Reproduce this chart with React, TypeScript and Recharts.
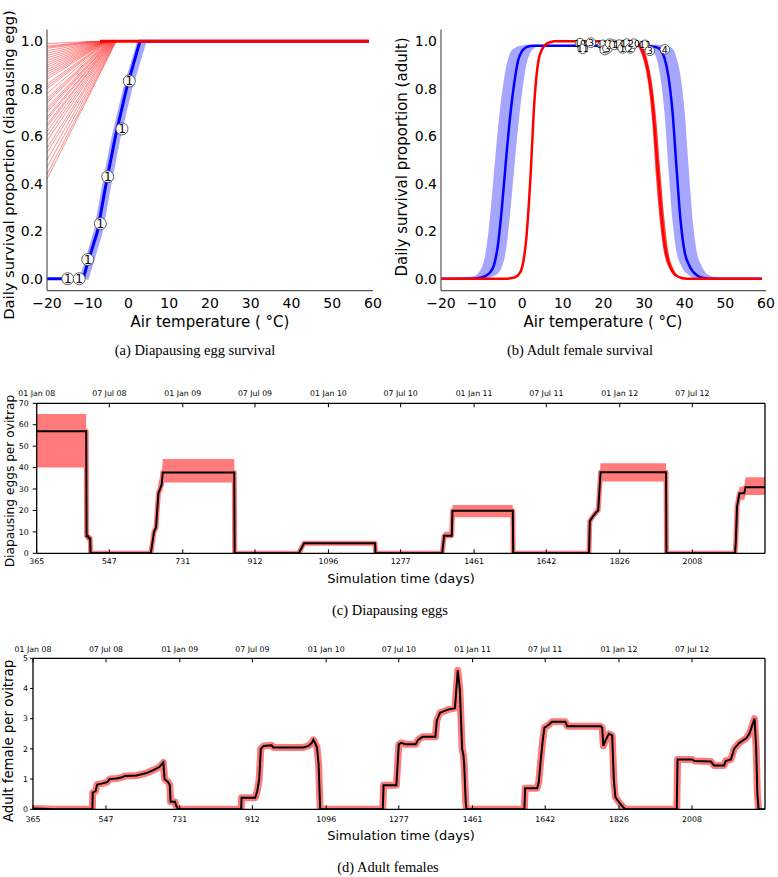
import React from 'react';
import { ComposedChart, Line, Area, Scatter, XAxis, YAxis, ReferenceLine } from 'recharts';

const SANS = "'DejaVu Sans', sans-serif";
const SERIF = "'Liberation Serif', serif";

// ---------- Panel (a): diapausing egg survival ----------
const tempTicks = [-20, -10, 0, 10, 20, 30, 40, 50, 60];
const survTicks = [0, 0.2, 0.4, 0.6, 0.8, 1.0];

const eggBlueT = [-20, -11.1, -10.3, -7.6, -5.5, -3.2, -0.5, 2.8, 59];
const eggBlueP = [0, 0, 0.05, 0.2, 0.4, 0.6, 0.8, 1.0, 1.0];
const eggBandT = [-10.9, -10.0, -7.4, -5.3, -3.0, -0.2, 3.3];
const eggBandP = [0, 0.05, 0.2, 0.4, 0.6, 0.8, 1.0];
const eggRedStart = [0.42, 0.44, 0.47, 0.5, 0.53, 0.55, 0.58, 0.6, 0.62, 0.64, 0.65, 0.67, 0.68, 0.7, 0.71, 0.72, 0.74, 0.75, 0.76, 0.78, 0.8, 0.81, 0.82, 0.84, 0.85, 0.86, 0.87, 0.88, 0.89, 0.9, 0.91, 0.92, 0.93, 0.94, 0.95, 0.96, 0.97, 0.975, 0.98, 0.99];
const eggRedKnee = [-3.0, -3.1, -3.2, -3.3, -3.4, -3.5, -3.6, -3.7, -3.8, -3.9, -4.0, -4.1, -4.2, -4.3, -4.4, -4.5, -4.6, -4.7, -4.8, -4.9, -5.0, -5.1, -5.2, -5.3, -5.4, -5.5, -5.6, -5.7, -5.8, -5.9, -6.0, -6.2, -6.4, -6.6, -6.8, -7.0, -7.4, -7.8, -8.2, -9.0];
const eggRedFlatT = [-7, 59];
const eggRedFlatP = [1, 1];
const eggObsT = [-14.9, -12.1, -10.0, -6.9, -5.1, -1.6, 0.2];
const eggObsP = [0, 0, 0.081, 0.232, 0.43, 0.631, 0.833];
const eggObsN = ['1', '1', '1', '1', '1', '1', '1'];

// ---------- Panel (b): adult female survival ----------
const tempB = [-20, -12, -10, -9, -8, -7, -6, -5, -4, -3, -2, -1, 0, 1, 2, 3, 4, 5, 6, 7, 8, 10, 20, 27, 28, 29, 30, 31, 32, 33, 34, 35, 36, 37, 38, 39, 40, 41, 42, 43, 44, 46, 50, 59];
const blueB = [0, 0, 0.005, 0.012, 0.025, 0.055, 0.14, 0.3, 0.5, 0.68, 0.82, 0.92, 0.96, 0.975, 0.98, 0.981, 0.981, 0.981, 0.981, 0.981, 0.981, 0.981, 0.981, 0.981, 0.981, 0.981, 0.98, 0.98, 0.978, 0.975, 0.965, 0.93, 0.85, 0.7, 0.46, 0.24, 0.11, 0.06, 0.03, 0.015, 0.005, 0, 0, 0];
const blueLoB = [0, 0, 0, 0.002, 0.004, 0.011, 0.022, 0.05, 0.12, 0.27, 0.46, 0.64, 0.79, 0.9, 0.952, 0.972, 0.977, 0.977, 0.977, 0.977, 0.977, 0.977, 0.977, 0.977, 0.977, 0.977, 0.976, 0.975, 0.965, 0.93, 0.85, 0.7, 0.46, 0.24, 0.11, 0.06, 0.03, 0.015, 0.005, 0.002, 0, 0, 0, 0];
const blueHiB = [0, 0.01, 0.046, 0.11, 0.25, 0.44, 0.63, 0.78, 0.89, 0.95, 0.97, 0.979, 0.982, 0.985, 0.985, 0.985, 0.985, 0.985, 0.985, 0.985, 0.985, 0.985, 0.985, 0.985, 0.985, 0.985, 0.985, 0.985, 0.985, 0.985, 0.984, 0.982, 0.978, 0.97, 0.93, 0.85, 0.7, 0.46, 0.24, 0.11, 0.06, 0.015, 0, 0];
const redB = [0, 0, 0, 0, 0, 0, 0, 0, 0, 0.002, 0.005, 0.015, 0.05, 0.17, 0.42, 0.75, 0.92, 0.97, 0.99, 0.997, 1, 1, 1, 1, 0.995, 0.98, 0.94, 0.87, 0.75, 0.54, 0.32, 0.15, 0.07, 0.03, 0.012, 0.004, 0.001, 0, 0, 0, 0, 0, 0, 0];
const redLoB = [null, null, null, null, null, null, null, null, null, null, null, null, null, null, null, null, null, null, null, null, null, null, null, 1, 0.99, 0.96, 0.91, 0.82, 0.66, 0.41, 0.22, 0.1, 0.05, 0.02, 0.007, 0.002, 0, null, null, null, null, null, null, null];
const redHiB = [null, null, null, null, null, null, null, null, null, null, null, null, null, null, null, null, null, null, null, null, null, null, null, 1, 1, 0.99, 0.965, 0.91, 0.82, 0.67, 0.45, 0.25, 0.11, 0.05, 0.02, 0.008, 0.002, null, null, null, null, null, null, null];
const adultObsT = [14.2, 14.9, 16.9, 19.8, 20.3, 21.0, 21.6, 22.7, 23.9, 24.7, 25.7, 26.6, 27.5, 30.2, 31.4, 35.1];
const adultObsP = [0.992, 0.968, 0.994, 0.985, 0.963, 0.97, 0.99, 0.985, 0.986, 0.97, 0.99, 0.97, 0.99, 0.985, 0.96, 0.966];
const adultObsN = ['10', '11', '3', '11', '5', '3', '1', '1', '16', '1', '12', '2', '20', '11', '3', '4'];

// ---------- Panels (c) and (d): time series ----------
const dayTicks = [365, 547, 731, 912, 1096, 1277, 1461, 1642, 1826, 2008];
const dateLabels = ['01 Jan 08', '07 Jul 08', '01 Jan 09', '07 Jul 09', '01 Jan 10', '07 Jul 10', '01 Jan 11', '07 Jul 11', '01 Jan 12', '07 Jul 12'];
const eggTicksY = [0, 10, 20, 30, 40, 50, 60, 70];
const adultTicksY = [0, 1, 2, 3, 4, 5];

const diapDay = [365, 489, 490, 494, 495, 499, 500, 651, 659, 664, 670, 674, 678, 681, 860, 861, 1021, 1023, 1035, 1213, 1214, 1381, 1386, 1405, 1407, 1558, 1559, 1749, 1751, 1758, 1766, 1772, 1778, 1942, 1943, 2115, 2117, 2120, 2126, 2138, 2141, 2190];
const diapMean = [57, 57, 8, 8, 7, 7, 0, 0, 10, 12, 28, 30, 32, 37.7, 37.7, 0, 0, 0.5, 4.7, 4.7, 0, 0, 8.2, 8.2, 19.9, 19.9, 0, 0, 15, 17, 19, 20, 37.8, 37.8, 0, 0, 6, 21.8, 28, 28, 30.8, 30.8];
const diapLo = [40, 40, 6, 6, 6, 6, 0, 0, 8, 10, 24, 27, 30, 33, 33, 0, 0, 0.3, 4, 4, 0, 0, 7, 7, 16.8, 16.8, 0, 0, 13, 15.5, 17.5, 18, 33.5, 33.5, 0, 0, 4, 19, 25, 25, 27.2, 27.2];
const diapHi = [65, 65, 10, 10, 8, 8, 0, 0, 13, 15, 33, 35, 36, 44, 44, 0, 0, 0.7, 5.5, 5.5, 0, 0, 10, 10, 22.5, 22.5, 0, 0, 16.5, 18, 21, 22, 42, 42, 0, 0, 8, 24, 31, 31, 35.5, 35.5];

const adultDay = [365, 420, 513, 514, 521, 525, 536, 550, 556, 573, 585, 594, 623, 648, 665, 680, 690, 693, 702, 706, 708, 719, 721, 727, 884, 885, 919, 924, 929, 933, 940, 960, 964, 1039, 1052, 1060, 1064, 1068, 1073, 1077, 1081, 1237, 1239, 1271, 1277, 1283, 1294, 1319, 1325, 1336, 1368, 1372, 1380, 1399, 1417, 1424, 1429, 1432, 1435, 1438, 1440, 1444, 1446, 1590, 1592, 1622, 1626, 1630, 1636, 1640, 1651, 1659, 1692, 1697, 1780, 1784, 1787, 1793, 1801, 1809, 1813, 1817, 1828, 1838, 1842, 1970, 1972, 2009, 2014, 2055, 2063, 2088, 2092, 2105, 2113, 2126, 2143, 2151, 2164, 2168, 2171, 2174, 2190];
const adultMean = [0.03, 0, 0, 0.55, 0.6, 0.82, 0.85, 0.9, 1.0, 1.02, 1.05, 1.1, 1.12, 1.2, 1.3, 1.4, 1.55, 1.0, 0.9, 0.8, 0.25, 0.25, 0.15, 0, 0, 0.38, 0.38, 0.6, 1.0, 2.0, 2.1, 2.12, 2.05, 2.05, 2.1, 2.2, 2.3, 2.2, 2.05, 1.5, 0, 0, 0.8, 0.8, 2.15, 2.2, 2.15, 2.15, 2.3, 2.4, 2.4, 2.95, 3.2, 3.3, 3.35, 4.6, 4.0, 3.0, 2.0, 1.8, 1.5, 0.2, 0, 0, 0.7, 0.7, 0.9, 1.5, 2.3, 2.7, 2.8, 2.9, 2.9, 2.75, 2.75, 2.7, 2.1, 2.3, 2.5, 2.45, 1.0, 0.4, 0.2, 0.05, 0, 0, 1.65, 1.65, 1.6, 1.58, 1.45, 1.45, 1.6, 1.65, 2.0, 2.2, 2.35, 2.5, 3.0, 2.0, 0.5, 0, 0];

// ---------- tables built from the arrays ----------
const pts = (xs: number[], ys: number[]) => xs.map((x, i) => ({ x, y: ys[i] }));
const eggBlue = pts(eggBlueT, eggBlueP);
const eggBand = pts(eggBandT, eggBandP);
const eggRedFlat = pts(eggRedFlatT, eggRedFlatP);
const eggObs = eggObsT.map((x, i) => ({ x, y: eggObsP[i], n: eggObsN[i] }));
const adultObs = adultObsT.map((x, i) => ({ x, y: adultObsP[i], n: adultObsN[i] }));

const rowsB = tempB.map((x, i) => ({
  x,
  blue: blueB[i],
  blueBand: [blueLoB[i], blueHiB[i]],
  red: redB[i],
  redBand: redLoB[i] == null ? null : [redLoB[i], redHiB[i]],
}));

const haloOf = (v: number[]) => v.map((y, i) => (y > 0 || (v[i - 1] ?? 0) > 0 || (v[i + 1] ?? 0) > 0 ? y : null));
const diapHalo = haloOf(diapMean);
const rowsC = diapDay.map((x, i) => ({ x, v: diapMean[i], halo: diapHalo[i], band: [diapLo[i], diapHi[i]] }));
const adultHalo = haloOf(adultMean);
const rowsD = adultDay.map((x, i) => ({ x, v: adultMean[i], halo: adultHalo[i] }));

// ---------- helpers ----------
const fmtT = (v: number) => (v < 0 ? '\u2212' + Math.abs(v) : String(v));
const fmt1 = (v: number) => v.toFixed(1);
const fmtDate = (v: number) => {
  const i = dayTicks.indexOf(v);
  return i >= 0 ? dateLabels[i] : '';
};

const tickAB = { fill: '#000', fontSize: 14, fontFamily: SANS };
const axisAB = { stroke: '#555', strokeWidth: 1.2 };
const tickCD = { fill: '#000', fontSize: 7.8, fontFamily: SANS };
const axisCD = { stroke: '#000', strokeWidth: 1.3 };

const badge = (r: number, fs: number) => (props: any) => {
  const { cx, cy, payload } = props;
  if (cx == null || cy == null) return <g />;
  return (
    <g>
      <circle cx={cx} cy={cy} r={r} fill="#fff" stroke="#333" strokeWidth={0.8} />
      <text x={cx} y={cy} dy="0.36em" textAnchor="middle" fontSize={fs} fontFamily={SANS} fill="#000">
        {payload.n}
      </text>
    </g>
  );
};

const Txt = ({ x, y, size, family, rotate, children }: any) => (
  <div
    style={{
      position: 'absolute',
      left: x,
      top: y,
      transform: `translate(-50%, -50%)${rotate ? ' rotate(-90deg)' : ''}`,
      fontFamily: family,
      fontSize: size,
      lineHeight: 1,
      whiteSpace: 'nowrap',
      color: '#000',
    }}
  >
    {children}
  </div>
);

export default function App() {
  return (
    <div style={{ position: 'absolute', left: 0, top: 0, width: 778, height: 877, background: '#fff', overflow: 'hidden' }}>
      {/* Panel (a) */}
      <div style={{ position: 'absolute', left: 0, top: 0 }}>
        <ComposedChart width={390} height={335} margin={{ top: 29.4, right: 17, bottom: 14.4, left: 0 }}>
          <XAxis type="number" dataKey="x" domain={[-20, 60]} ticks={tempTicks} tickFormatter={fmtT} height={30}
            axisLine={axisAB} tickLine={false} tickSize={0} tickMargin={7} tick={tickAB} allowDataOverflow />
          <YAxis type="number" domain={[-0.05, 1.05]} ticks={survTicks} tickFormatter={fmt1} width={47}
            axisLine={axisAB} tickLine={false} tickSize={0} tickMargin={4} tick={tickAB} allowDataOverflow />
          {eggRedStart.map((s, i) => (
            <Line key={'r' + i} data={[{ x: -20, y: s }, { x: eggRedKnee[i], y: 1 }]} dataKey="y" type="linear"
              stroke="#ff0000" strokeOpacity={0.5} strokeWidth={0.9} dot={false} activeDot={false} isAnimationActive={false} />
          ))}
          <Line data={eggBand} dataKey="y" type="linear" stroke="#0000ff" strokeOpacity={0.35} strokeWidth={9}
            dot={false} activeDot={false} isAnimationActive={false} />
          <Line data={eggBlue} dataKey="y" type="linear" stroke="#0000ff" strokeWidth={3}
            dot={false} activeDot={false} isAnimationActive={false} />
          <Line data={eggRedFlat} dataKey="y" type="linear" stroke="#ff0000" strokeWidth={3}
            dot={false} activeDot={false} isAnimationActive={false} />
          <Scatter data={eggObs} dataKey="y" shape={badge(6, 12)} isAnimationActive={false} />
        </ComposedChart>
      </div>

      {/* Panel (b) */}
      <div style={{ position: 'absolute', left: 394, top: 0 }}>
        <ComposedChart width={384} height={335} data={rowsB} margin={{ top: 29.4, right: 12, bottom: 14.4, left: 0 }}>
          <XAxis type="number" dataKey="x" domain={[-20, 60]} ticks={tempTicks} tickFormatter={fmtT} height={30}
            axisLine={axisAB} tickLine={false} tickSize={0} tickMargin={7} tick={tickAB} allowDataOverflow />
          <YAxis type="number" domain={[-0.05, 1.05]} ticks={survTicks} tickFormatter={fmt1} width={47}
            axisLine={axisAB} tickLine={false} tickSize={0} tickMargin={4} tick={tickAB} allowDataOverflow />
          <Area dataKey="blueBand" type="monotone" stroke="none" fill="#0000ff" fillOpacity={0.35}
            activeDot={false} isAnimationActive={false} />
          <Area dataKey="redBand" type="monotone" stroke="none" fill="#ff0000" fillOpacity={0.75}
            activeDot={false} isAnimationActive={false} />
          <Line dataKey="blue" type="monotone" stroke="#0000ff" strokeWidth={2.5} dot={false} activeDot={false} isAnimationActive={false} />
          <Line dataKey="red" type="monotone" stroke="#ff0000" strokeWidth={2.5} dot={false} activeDot={false} isAnimationActive={false} />
          <Scatter data={adultObs} dataKey="y" shape={badge(4.8, 9.5)} isAnimationActive={false} />
        </ComposedChart>
      </div>

      {/* Panel (c) */}
      <div style={{ position: 'absolute', left: 0, top: 370 }}>
        <ComposedChart width={778} height={201} data={rowsC} margin={{ top: 11.3, right: 13, bottom: 0.7, left: 0 }}>
          <XAxis xAxisId="t" orientation="top" type="number" dataKey="x" domain={[365, 2190]} ticks={dayTicks}
            tickFormatter={fmtDate} height={22} axisLine={axisCD} tickLine={{ stroke: '#000' }} tickSize={-4} tickMargin={11}
            tick={tickCD} allowDataOverflow interval={0} />
          <XAxis xAxisId="b" orientation="bottom" type="number" dataKey="x" domain={[365, 2190]} ticks={dayTicks}
            height={17} axisLine={axisCD} tickLine={{ stroke: '#000' }} tickSize={-4} tickMargin={9}
            tick={tickCD} allowDataOverflow interval={0} />
          <YAxis type="number" domain={[0, 70]} ticks={eggTicksY} width={36.7} axisLine={axisCD}
            tickLine={{ stroke: '#000' }} tickSize={4} tickMargin={4} tick={tickCD} allowDataOverflow interval={0} />
          <Area xAxisId="t" dataKey="band" type="linear" stroke="none" fill="#ff0000" fillOpacity={0.52}
            activeDot={false} isAnimationActive={false} />
          <Line xAxisId="b" dataKey="halo" type="linear" stroke="#ff7a7a" strokeWidth={5} strokeLinejoin="round"
            dot={false} activeDot={false} isAnimationActive={false} />
          <Line xAxisId="b" dataKey="v" type="linear" stroke="#000" strokeWidth={2} dot={false} activeDot={false}
            isAnimationActive={false} />
          <ReferenceLine xAxisId="b" x={2190} stroke="#000" strokeWidth={1.3} />
        </ComposedChart>
      </div>

      {/* Panel (d) */}
      <div style={{ position: 'absolute', left: 0, top: 625 }}>
        <ComposedChart width={778} height={202} data={rowsD} margin={{ top: 11.3, right: 13, bottom: 0.7, left: 0 }}>
          <XAxis xAxisId="t" orientation="top" type="number" dataKey="x" domain={[365, 2190]} ticks={dayTicks}
            tickFormatter={fmtDate} height={22} axisLine={axisCD} tickLine={{ stroke: '#000' }} tickSize={-4} tickMargin={10.3}
            tick={tickCD} allowDataOverflow interval={0} />
          <XAxis xAxisId="b" orientation="bottom" type="number" dataKey="x" domain={[365, 2190]} ticks={dayTicks}
            height={17} axisLine={axisCD} tickLine={{ stroke: '#000' }} tickSize={-4} tickMargin={11}
            tick={tickCD} allowDataOverflow interval={0} />
          <YAxis type="number" domain={[0, 5]} ticks={adultTicksY} width={33} axisLine={axisCD}
            tickLine={{ stroke: '#000' }} tickSize={3} tickMargin={2} tick={tickCD} allowDataOverflow interval={0} />
          <Line xAxisId="t" dataKey="halo" type="linear" stroke="#ff7a7a" strokeWidth={7} strokeLinejoin="round"
            dot={false} activeDot={false} isAnimationActive={false} />
          <Line xAxisId="b" dataKey="v" type="linear" stroke="#000" strokeWidth={2} dot={false} activeDot={false}
            isAnimationActive={false} />
          <ReferenceLine xAxisId="b" x={2190} stroke="#000" strokeWidth={1.3} />
        </ComposedChart>
      </div>

      {/* Axis titles and captions */}
      <Txt x={9} y={165} size={14.7} family={SANS} rotate>Daily survival proportion (diapausing egg)</Txt>
      <Txt x={210} y={322} size={15} family={SANS}>Air temperature ( °C)</Txt>
      <Txt x={195} y={350} size={14.5} family={SERIF}>(a) Diapausing egg survival</Txt>

      <Txt x={402} y={157} size={15} family={SANS} rotate>Daily survival proportion (adult)</Txt>
      <Txt x={603} y={322} size={15} family={SANS}>Air temperature ( °C)</Txt>
      <Txt x={580} y={350} size={14.5} family={SERIF}>(b) Adult female survival</Txt>

      <Txt x={10} y={481} size={12.2} family={SANS} rotate>Diapausing eggs per ovitrap</Txt>
      <Txt x={401} y={578} size={13} family={SANS}>Simulation time (days)</Txt>
      <Txt x={390} y={610} size={14.5} family={SERIF}>(c) Diapausing eggs</Txt>

      <Txt x={9} y={741} size={13.3} family={SANS} rotate>Adult female per ovitrap</Txt>
      <Txt x={401} y={835} size={13} family={SANS}>Simulation time (days)</Txt>
      <Txt x={388} y={867} size={14.5} family={SERIF}>(d) Adult females</Txt>
    </div>
  );
}
